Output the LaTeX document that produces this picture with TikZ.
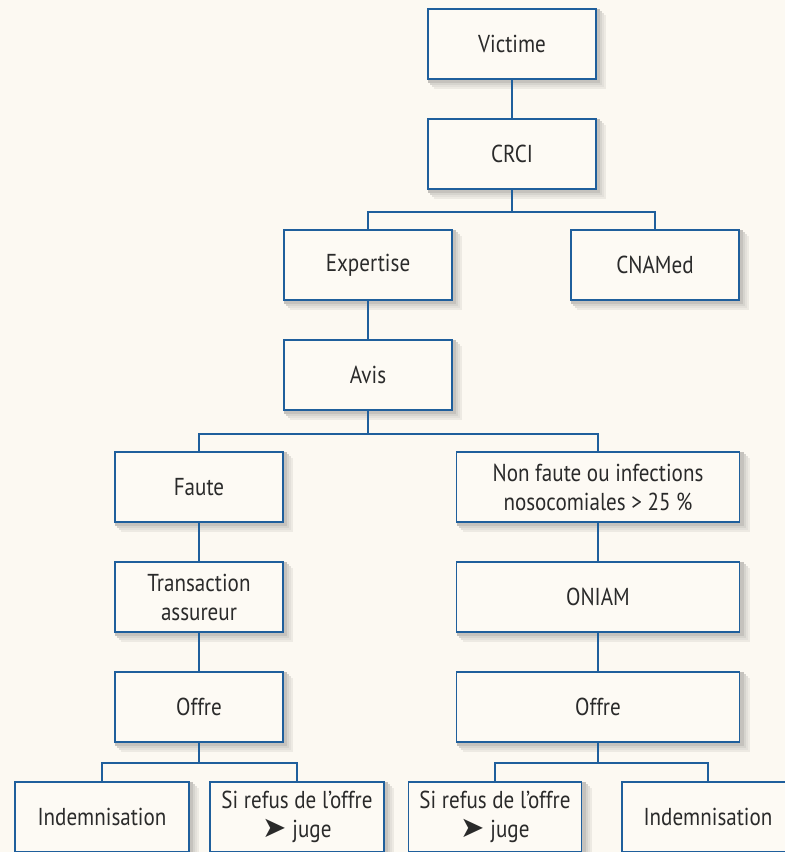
\documentclass[tikz,border=0pt]{standalone}
\usepackage{fontspec}
\setmainfont{PT Sans}[FakeStretch=0.86]
\newfontfamily\arrowfont{DejaVu Sans}

\definecolor{paper}{HTML}{FCF9F2}
\definecolor{boxfill}{HTML}{FDFAF4}
\definecolor{linkblue}{HTML}{1F5F9C}
\definecolor{inkgrey}{HTML}{2A2A2A}

\newcommand{\bigarrow}{{\arrowfont\fontsize{29}{29}\selectfont ➤}}

\begin{document}
\begin{tikzpicture}[x=1pt, y=-1pt,
  box/.style={draw=linkblue, line width=1.8pt, fill=boxfill,
    minimum width=168pt, minimum height=70pt, inner sep=0pt, align=center,
    text=inkgrey, font=\fontsize{24.5}{29}\selectfont},
  widebox/.style={box, minimum width=283pt},
  link/.style={draw=linkblue, line width=1.8pt}]
\useasboundingbox (0,0) rectangle (785,852);
\clip (0,0) rectangle (785,852);
\fill[paper] (0,0) rectangle (785,852);

% shadows first, from centre and size of each box
\foreach \cx/\cy/\w in {512/44/170,512/154/170,368/265/170,655/265/170,368/375/170,
    199/487/170,598/487/285,199/597/170,598/597/285,199/707/170,598/707/285,
    102/817/176,297/817/176,495/817/175,708/817/174}
  \foreach \d/\g in {9/6,7/10,5/15,3/22}
    \fill[black!\g!paper] (\cx-\w/2+\d-2,\cy-36+\d-2) rectangle (\cx+\w/2+\d,\cy+36+\d);

\node[box] (victime) at (512,44) {Victime};
\node[box] (crci) at (512,154) {CRCI};
\node[box] (expertise) at (368,265) {Expertise};
\node[box] (cnamed) at (655,265) {CNAMed};
\node[box] (avis) at (368,375) {Avis};
\node[box] (faute) at (199,487) {Faute};
\node[widebox] (nonfaute) at (598,487) {Non faute ou infections\\nosocomiales > 25 \%};
\node[box] (transaction) at (199,597) {Transaction\\assureur};
\node[widebox] (oniam) at (598,597) {ONIAM};
\node[box] (offreL) at (199,707) {Offre};
\node[widebox] (offreR) at (598,707) {Offre};
\node[box, minimum width=174pt] (indemL) at (102,817) {Indemnisation};
\node[box, minimum width=174pt] (refusL) at (297,817) {Si refus de l’offre\\\bigarrow\ juge};
\node[box, minimum width=173pt] (refusR) at (495,817) {Si refus de l’offre\\\bigarrow\ juge};
\node[box, minimum width=172pt] (indemR) at (708,817) {Indemnisation};

\coordinate (forkA) at (512,212);
\coordinate (forkB) at (368,434);
\coordinate (forkC) at (199,763);
\coordinate (forkD) at (598,763);

\path[link] (victime) -- (crci);
\path[link] (crci) -- (forkA);
\path[link] (expertise.north) |- (forkA) -| (cnamed.north);
\path[link] (expertise) -- (avis);
\path[link] (avis) -- (forkB);
\path[link] (faute.north) |- (forkB) -| (nonfaute.north);
\path[link] (faute) -- (transaction);
\path[link] (transaction) -- (offreL);
\path[link] (nonfaute) -- (oniam);
\path[link] (oniam) -- (offreR);
\path[link] (offreL) -- (forkC);
\path[link] (indemL.north) |- (forkC) -| (refusL.north);
\path[link] (offreR) -- (forkD);
\path[link] (refusR.north) |- (forkD) -| (indemR.north);
\end{tikzpicture}
\end{document}
